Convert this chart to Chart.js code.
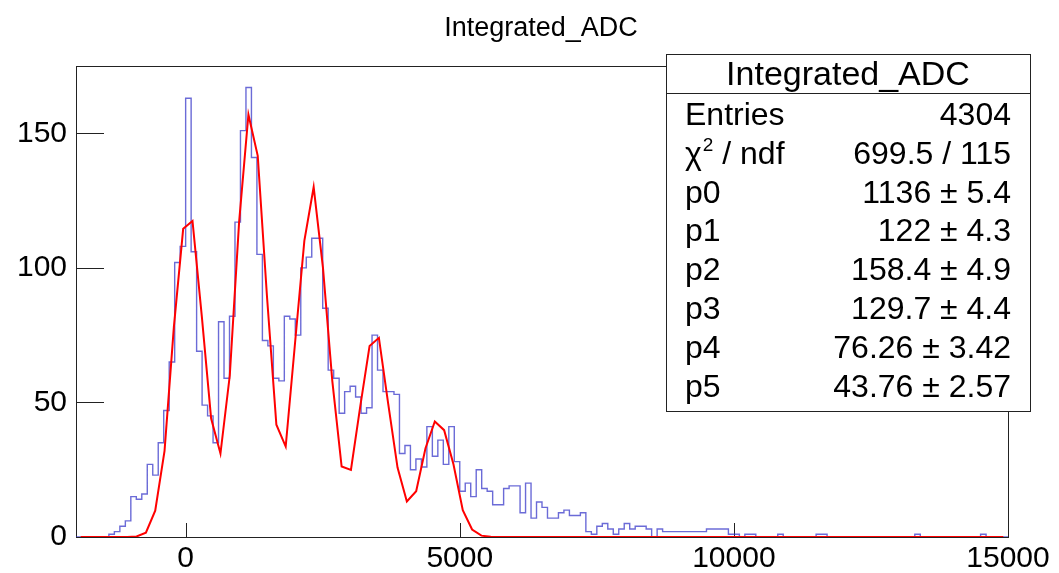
<!DOCTYPE html>
<html>
<head>
<meta charset="utf-8">
<title>Integrated_ADC</title>
<script src="https://cdn.jsdelivr.net/npm/chart.js@4.4.1/dist/chart.umd.min.js"></script>
<style>
    html, body { margin: 0; padding: 0; background: #ffffff; }
    #wrap { width: 1059px; height: 573px; }
</style>
</head>
<body>
<div id="wrap"><canvas id="adcChart" width="1059" height="573"></canvas></div>
<script>
// histogram: 170 bins of 100 from -2000 to 15000
const histLow = -2000;
const histBinWidth = 100;
const histCounts = [
    0, 0, 0, 0, 0, 0, 1, 2, 4, 6,
    15, 14, 16, 27, 23, 35, 47, 65, 102, 108,
    163, 106, 69, 49, 45, 35, 80, 59, 82, 117,
    151, 167, 141, 105, 73, 71, 59, 58, 82, 81,
    75, 100, 104, 111, 111, 85, 62, 59, 46, 54,
    56, 52, 46, 48, 75, 62, 54, 54, 53, 31,
    34, 25, 29, 26, 41, 30, 36, 27, 41, 28,
    17, 20, 15, 25, 18, 17, 12, 12, 18, 19,
    19, 9, 20, 7, 13, 11, 7, 7, 9, 10,
    8, 8, 9, 2, 1, 4, 5, 3, 1, 3,
    5, 3, 4, 4, 3, 0, 3, 2, 2, 2,
    2, 2, 2, 2, 2, 3, 3, 3, 3, 1,
    1, 0, 1, 1, 0, 0, 0, 0, 1, 0,
    0, 0, 0, 0, 0, 1, 1, 0, 0, 0,
    0, 0, 0, 0, 0, 0, 0, 0, 0, 0,
    0, 0, 0, 1, 0, 0, 0, 0, 0, 0,
    0, 0, 0, 0, 0, 1, 0, 0, 0, 0
];

// fit curve, sampled at 100 points (centres of 170-wide steps)
const fitStart = -1915;
const fitStep = 170;
const fitValues = [
    0, 0, 0, 0, 0, 0, 0.2, 1.6, 9.8, 32,
    78, 114.5, 117.4, 82, 44, 31, 60, 117, 157, 141.6,
    89, 41.7, 33.6, 72, 110, 130, 100, 58, 26.2, 24.9,
    48.5, 71, 74, 49.5, 25.8, 13.2, 17, 33, 42.9, 39.7,
    27, 10, 2.8, 0.5, 0.1, 0, 0, 0, 0, 0,
    0, 0, 0, 0, 0, 0, 0, 0, 0, 0,
    0, 0, 0, 0, 0, 0, 0, 0, 0, 0,
    0, 0, 0, 0, 0, 0, 0, 0, 0, 0,
    0, 0, 0, 0, 0, 0, 0, 0, 0, 0,
    0, 0, 0, 0, 0, 0, 0, 0, 0, 0
];

const xTicks = [0, 5000, 10000, 15000];
const yTicks = [0, 50, 100, 150];

const chartTitle = 'Integrated_ADC';
const statsTitle = 'Integrated_ADC';
const statsLabels = ['Entries', 'chi2', 'p0', 'p1', 'p2', 'p3', 'p4', 'p5'];
const statsValues = ['4304', '699.5 / 115', '1136 ± 5.4', '122 ± 4.3', '158.4 ± 4.9',
                     '129.7 ± 4.4', '76.26 ± 3.42', '43.76 ± 2.57'];

const FONT = '"Liberation Sans", Arial, Helvetica, sans-serif';

// histogram outline as points on the bin edges (stepped line)
const histPoints = histCounts.map((c, i) => ({ x: histLow + i * histBinWidth, y: c }));
histPoints.push({ x: histLow + histCounts.length * histBinWidth, y: histCounts[histCounts.length - 1] });

const fitPoints = fitValues.map((v, i) => ({ x: fitStart + i * fitStep, y: v }));

// frame, inner tick marks, title and the stats box (ROOT look)
const rootStyle = {
    id: 'rootStyle',
    beforeDatasetsDraw(chart) {
        const ctx = chart.ctx;
        const area = chart.chartArea;
        const xs = chart.scales.x;
        const ys = chart.scales.y;
        ctx.save();
        ctx.strokeStyle = '#222';
        ctx.lineWidth = 1;
        ctx.strokeRect(Math.round(area.left) + 0.5, Math.round(area.top) + 0.5,
                       Math.round(area.right - area.left), Math.round(area.bottom - area.top));
        ctx.beginPath();
        yTicks.forEach(v => {
            const py = Math.round(ys.getPixelForValue(v)) + 0.5;
            ctx.moveTo(area.left, py);
            ctx.lineTo(area.left + 28, py);
        });
        xTicks.forEach(v => {
            const px = Math.round(xs.getPixelForValue(v)) + 0.5;
            ctx.moveTo(px, area.bottom);
            ctx.lineTo(px, area.bottom - 14);
        });
        ctx.stroke();
        ctx.restore();
    },
    afterDraw(chart) {
        const ctx = chart.ctx;
        ctx.save();
        // title
        ctx.fillStyle = '#000';
        ctx.font = '27px ' + FONT;
        ctx.textAlign = 'center';
        ctx.textBaseline = 'alphabetic';
        ctx.fillText(chartTitle, 541, 36);

        // stats box
        const bx = 666, by = 54, bw = 364, bh = 357;
        ctx.fillStyle = '#fff';
        ctx.fillRect(bx, by, bw, bh);
        ctx.strokeStyle = '#222';
        ctx.lineWidth = 1;
        ctx.strokeRect(bx + 0.5, by + 0.5, bw, bh);
        ctx.beginPath();
        ctx.moveTo(bx, 93.5);
        ctx.lineTo(bx + bw, 93.5);
        ctx.stroke();

        ctx.fillStyle = '#000';
        ctx.font = '34px ' + FONT;
        ctx.textAlign = 'center';
        ctx.fillText(statsTitle, bx + bw / 2, 85);

        statsLabels.forEach((lab, i) => {
            const base = 125 + i * 38.8;
            ctx.textAlign = 'left';
            ctx.font = '32px ' + FONT;
            if (lab === 'chi2') {
                let x = 685;
                ctx.fillText('χ', x, base);
                x += ctx.measureText('χ').width + 1;
                ctx.font = '19px ' + FONT;
                ctx.fillText('2', x, base - 13);
                x += ctx.measureText('2').width;
                ctx.font = '32px ' + FONT;
                ctx.fillText(' / ndf', x, base);
            } else {
                ctx.fillText(lab, 685, base);
            }
            ctx.textAlign = 'right';
            ctx.fillText(statsValues[i], 1011, base);
        });
        ctx.restore();
    }
};

const ctx = document.getElementById('adcChart').getContext('2d');
const adcChart = new Chart(ctx, {
    type: 'line',
    data: {
        datasets: [
            {
                label: 'fit',
                data: fitPoints,
                borderColor: '#ff0000',
                borderWidth: 2,
                pointRadius: 0,
                tension: 0,
                fill: false,
                order: 0
            },
            {
                label: 'Integrated_ADC',
                data: histPoints,
                borderColor: 'rgba(50, 50, 200, 0.72)',
                borderWidth: 1.4,
                pointRadius: 0,
                stepped: true,
                fill: false,
                order: 1
            }
        ]
    },
    options: {
        responsive: false,
        animation: false,
        events: [],
        layout: { padding: { top: 66, right: 51, bottom: 0, left: 0 } },
        plugins: {
            legend: { display: false },
            tooltip: { enabled: false },
            title: { display: false }
        },
        scales: {
            x: {
                type: 'linear',
                min: -2000,
                max: 15000,
                grid: { display: false, drawTicks: false },
                border: { display: false },
                afterBuildTicks: s => { s.ticks = xTicks.map(v => ({ value: v })); },
                afterFit: s => { s.height = 36; },
                ticks: {
                    color: '#000',
                    font: { family: FONT, size: 30 },
                    padding: 4,
                    maxRotation: 0,
                    autoSkip: false,
                    callback: v => String(v)
                }
            },
            y: {
                type: 'linear',
                min: 0,
                max: 175,
                grid: { display: false, drawTicks: false },
                border: { display: false },
                afterBuildTicks: s => { s.ticks = yTicks.map(v => ({ value: v })); },
                afterFit: s => { s.width = 76; },
                ticks: {
                    color: '#000',
                    font: { family: FONT, size: 30 },
                    padding: 9,
                    autoSkip: false,
                    callback: v => String(v)
                }
            }
        }
    },
    plugins: [rootStyle]
});
</script>
</body>
</html>
